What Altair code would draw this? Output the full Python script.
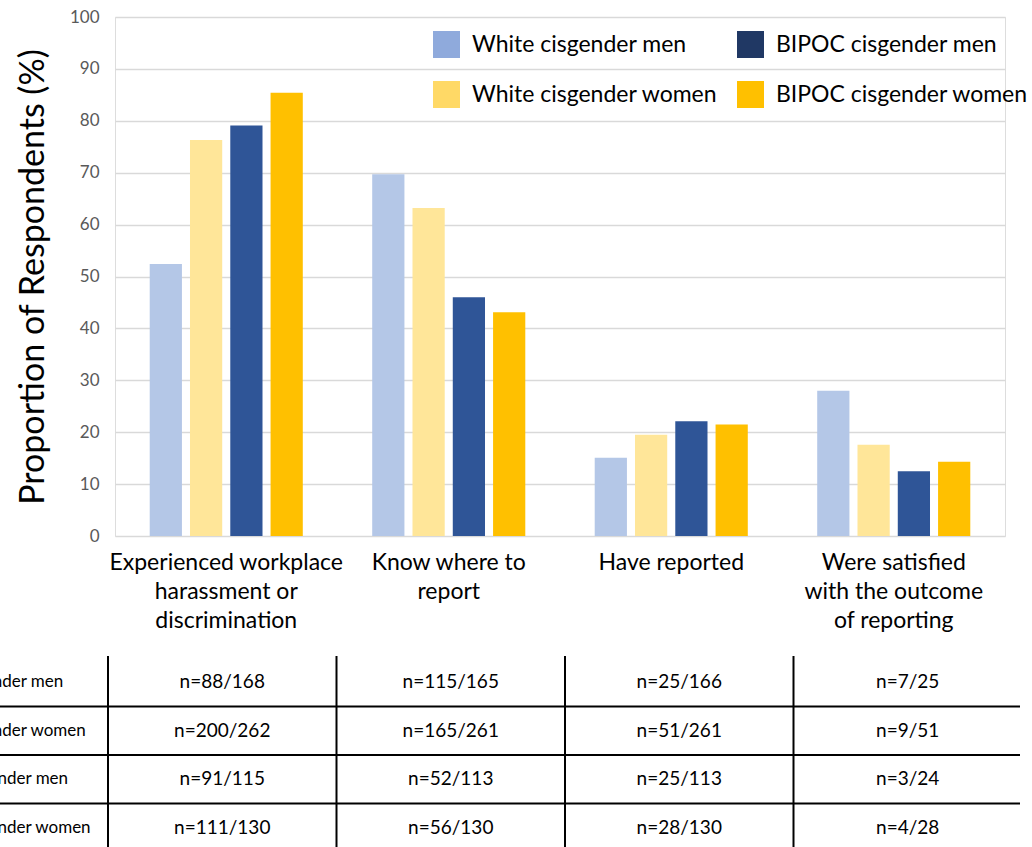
import altair as alt
import pandas as pd

categories = [
    "Experienced workplace harassment or discrimination",
    "Know where to report",
    "Have reported",
    "Were satisfied with the outcome of reporting",
]
category_lines = [
    ["Experienced workplace", "harassment or", "discrimination"],
    ["Know where to", "report"],
    ["Have reported"],
    ["Were satisfied", "with the outcome", "of reporting"],
]
groups = ["White cisgender men", "White cisgender women", "BIPOC cisgender men", "BIPOC cisgender women"]

white_men = [52.4, 69.7, 15.1, 28.0]
white_women = [76.3, 63.2, 19.5, 17.6]
bipoc_men = [79.1, 46.0, 22.1, 12.5]
bipoc_women = [85.4, 43.1, 21.5, 14.3]

n_white_men = ["n=88/168", "n=115/165", "n=25/166", "n=7/25"]
n_white_women = ["n=200/262", "n=165/261", "n=51/261", "n=9/51"]
n_bipoc_men = ["n=91/115", "n=52/113", "n=25/113", "n=3/24"]
n_bipoc_women = ["n=111/130", "n=56/130", "n=28/130", "n=4/28"]

bar_colors = ["#B4C7E7", "#FFE699", "#2F5597", "#FFC000"]
legend_order = ["White cisgender men", "BIPOC cisgender men", "White cisgender women", "BIPOC cisgender women"]
legend_colors = ["#8FAADC", "#203864", "#FFD966", "#FFC000"]

FONT = "Lato"

series = [white_men, white_women, bipoc_men, bipoc_women]
ns = [n_white_men, n_white_women, n_bipoc_men, n_bipoc_women]
rows = []
trows = []
for g, vals, nl in zip(groups, series, ns):
    for c, v, t in zip(categories, vals, nl):
        rows.append({"category": c, "group": g, "value": v})
        trows.append({"category": c, "group": g, "text": t})
df = pd.DataFrame(rows)
tdf = pd.DataFrame(trows)
gdf = pd.DataFrame({"group": groups})
hdf = pd.DataFrame({"group": groups[1:]})
cdf = pd.DataFrame({"category": categories})
ldf = pd.DataFrame({"group": legend_order})

# label expression for wrapped category labels
expr = "''"
for c, lines in reversed(list(zip(categories, category_lines))):
    arr = "[" + ",".join("'" + l + "'" for l in lines) + "]"
    expr = f"datum.label == '{c}' ? {arr} : ({expr})"

bars = alt.Chart(df).mark_bar().encode(
    x=alt.X(
        "category:N",
        sort=categories,
        scale=alt.Scale(domain=categories, paddingInner=0.312, paddingOuter=0.156),
        axis=alt.Axis(
            title=None, labelAngle=0, labelExpr=expr, labelFontSize=23, labelColor="black",
            labelLineHeight=29, labelPadding=15, domain=False, ticks=False, grid=False,
            labelBaseline="top", labelLimit=400, labelFont=FONT,
        ),
    ),
    xOffset=alt.XOffset("group:N", sort=groups, scale=alt.Scale(domain=groups, paddingInner=0.2, paddingOuter=0)),
    y=alt.Y(
        "value:Q",
        scale=alt.Scale(domain=[0, 100]),
        axis=alt.Axis(
            values=list(range(0, 101, 10)), title="Proportion of Respondents (%)",
            titleFontSize=34, titleFontWeight="normal", titleColor="black", titleFont=FONT,
            titlePadding=19, labelFontSize=17, labelColor="#595959", labelPadding=16,
            labelFont=FONT, domain=False, ticks=False, grid=True, gridColor="#D9D9D9", gridWidth=1.5,
        ),
    ),
    color=alt.Color("group:N", sort=groups, scale=alt.Scale(domain=groups, range=bar_colors), legend=None),
)

legend_layer = alt.Chart(ldf).mark_square(opacity=0).encode(
    fill=alt.Fill(
        "group:N",
        sort=legend_order,
        scale=alt.Scale(domain=legend_order, range=legend_colors),
        legend=alt.Legend(
            title=None, orient="none", legendX=318, legendY=14, columns=2, direction="horizontal",
            symbolType="square", symbolSize=729, symbolOpacity=1, symbolStrokeWidth=0,
            labelFontSize=23, labelFont=FONT, labelColor="black", labelOffset=12,
            rowPadding=23, columnPadding=19, labelLimit=400, padding=0,
        ),
    )
)

tx_scale = alt.Scale(domain=categories, range=[-7, 907], paddingInner=0, paddingOuter=0)
ty_scale = alt.Scale(domain=groups, range=[641, 835], paddingInner=0, paddingOuter=0)

cells = alt.Chart(tdf).mark_text(fontSize=19, font=FONT, color="black", align="center", baseline="middle").encode(
    x=alt.X("category:N", scale=tx_scale, axis=None),
    y=alt.Y("group:N", scale=ty_scale, axis=None),
    text="text:N",
)

row_labels = alt.Chart(gdf).mark_text(fontSize=17, font=FONT, color="black", align="left", baseline="middle").encode(
    x=alt.value(-210),
    y=alt.Y("group:N", scale=ty_scale, axis=None),
    text="group:N",
)

hlines = alt.Chart(hdf).mark_rule(color="black", strokeWidth=2).encode(
    y=alt.Y("group:N", scale=ty_scale, axis=None, bandPosition=0),
    x=alt.value(-115),
    x2=alt.value(905),
)

vlines = alt.Chart(cdf).mark_rule(color="black", strokeWidth=2).encode(
    x=alt.X("category:N", scale=tx_scale, axis=None, bandPosition=0),
    y=alt.value(639),
    y2=alt.value(840),
)

chart = alt.layer(bars, legend_layer, cells, row_labels, hlines, vlines).resolve_scale(
    x="independent", y="independent"
).properties(
    width=890,
    height=519,
    autosize=alt.AutoSizeParams(type="none"),
    padding={"left": 115, "top": 17, "right": 27, "bottom": 311},
).configure_view(stroke=None).configure(font=FONT)

chart.save("out.html", embed_options={"renderer": "svg", "actions": False})
